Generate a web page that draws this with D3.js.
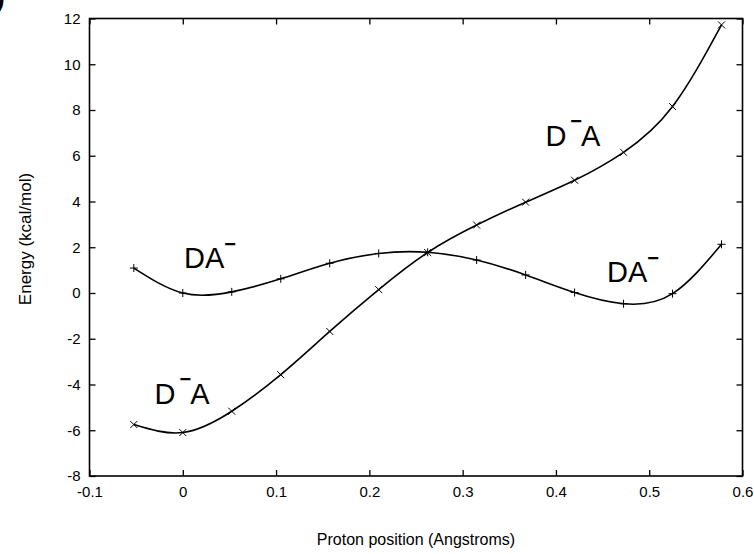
<!DOCTYPE html>
<html lang="en">
<head>
<meta charset="utf-8">
<title>Proton transfer energy profile</title>
<script src="https://d3js.org/d3.v7.min.js"></script>
<style>
  body { margin: 0; background: #fff; }
  svg { display: block; font-family: "Liberation Sans", Arial, sans-serif; }
</style>
</head>
<body>
<div id="chart"></div>
<script>
// proton positions (Angstroms), same grid for both curves
const positions = [-0.0525, 0, 0.0525, 0.105, 0.1575, 0.21, 0.2625, 0.315, 0.3675, 0.42, 0.4725, 0.525, 0.5775];
// D-A state (x markers)
const dMinusA = [-5.75, -6.1, -5.17, -3.57, -1.68, 0.15, 1.77, 2.97, 3.97, 4.93, 6.15, 8.15, 11.72];
// DA- state (+ markers)
const daMinus = [1.09, 0.0, 0.05, 0.62, 1.3, 1.73, 1.78, 1.44, 0.79, 0.02, -0.47, -0.03, 2.13];

const xTicks = [-0.1, 0, 0.1, 0.2, 0.3, 0.4, 0.5, 0.6];
const yTicks = [-8, -6, -4, -2, 0, 2, 4, 6, 8, 10, 12];

// state labels: text before the bar, text after it, anchor in data units
const labelLead = ["DA", "DA", "D", "D"];
const labelTail = ["", "", "A", "A"];
const labelX = [0.0013, 0.4547, 0.3887, -0.0303];
const labelY = [1.08, 0.48, 6.43, -4.85];

const width = 754, height = 554;
const plotL = 89.5, plotR = 742.5, plotT = 18.5, plotB = 476;

const svg = d3.select("#chart").append("svg")
    .attr("width", width)
    .attr("height", height);

const x = d3.scaleLinear().domain([-0.1, 0.6]).range([plotL, plotR]);
const y = d3.scaleLinear().domain([-8, 12]).range([plotB, plotT]);

const fmt = d => String(+d.toFixed(1));

// axes, ticks pointing inwards on all four sides
svg.append("g")
    .attr("transform", "translate(0," + plotB + ")")
    .call(d3.axisBottom(x).tickValues(xTicks).tickFormat(fmt).tickSizeInner(-6).tickSizeOuter(0).tickPadding(10));
svg.append("g")
    .attr("transform", "translate(0," + plotT + ")")
    .call(d3.axisTop(x).tickValues(xTicks).tickFormat("").tickSizeInner(-6).tickSizeOuter(0));
svg.append("g")
    .attr("transform", "translate(" + plotL + ",0)")
    .call(d3.axisLeft(y).tickValues(yTicks).tickFormat(fmt).tickSizeInner(-6).tickSizeOuter(0).tickPadding(9));
svg.append("g")
    .attr("transform", "translate(" + plotR + ",0)")
    .call(d3.axisRight(y).tickValues(yTicks).tickFormat("").tickSizeInner(-6).tickSizeOuter(0));

svg.selectAll(".domain").remove();
svg.selectAll(".tick line").attr("stroke", "#000").attr("stroke-width", 1.3);
svg.selectAll(".tick text")
    .attr("fill", "#000")
    .style("font-family", "'Liberation Sans', Arial, sans-serif")
    .style("font-size", "15px");

svg.append("rect")
    .attr("x", plotL).attr("y", plotT)
    .attr("width", plotR - plotL).attr("height", plotB - plotT)
    .attr("fill", "none").attr("stroke", "#000").attr("stroke-width", 1.6);

// curves
const line = d3.line()
    .x(d => x(d[0]))
    .y(d => y(d[1]))
    .curve(d3.curveNatural);

const seriesA = positions.map((p, i) => [p, dMinusA[i]]);
const seriesB = positions.map((p, i) => [p, daMinus[i]]);

[seriesA, seriesB].forEach(s => {
  svg.append("path")
      .datum(s)
      .attr("d", line)
      .attr("fill", "none")
      .attr("stroke", "#000")
      .attr("stroke-width", 1.6);
});

// markers
const m = 3.5;
svg.append("g").selectAll("path")
    .data(seriesA)
    .join("path")
    .attr("d", d => {
      const cx = x(d[0]), cy = y(d[1]);
      return `M${cx - m},${cy - m}L${cx + m},${cy + m}M${cx - m},${cy + m}L${cx + m},${cy - m}`;
    })
    .attr("stroke", "#000").attr("stroke-width", 1);

svg.append("g").selectAll("path")
    .data(seriesB)
    .join("path")
    .attr("d", d => {
      const cx = x(d[0]), cy = y(d[1]);
      return `M${cx - m - 0.5},${cy}L${cx + m + 0.5},${cy}M${cx},${cy - m - 0.5}L${cx},${cy + m + 0.5}`;
    })
    .attr("stroke", "#000").attr("stroke-width", 1);

// state labels with the raised minus bar
labelLead.forEach((lead, i) => {
  const t = svg.append("text")
      .attr("x", x(labelX[i]))
      .attr("y", y(labelY[i]))
      .style("font-size", "29px")
      .attr("fill", "#000");
  t.append("tspan").text(lead);
  const tail = labelTail[i];
  t.append("tspan")
      .attr("dx", tail ? 4 : 0)
      .attr("dy", -17.5)
      .style("font-size", "20px")
      .style("font-weight", "bold")
      .text("\u2212");
  if (tail) {
    t.append("tspan")
        .attr("dx", -1)
        .attr("dy", 17.5)
        .text(tail);
  }
});

// axis titles
svg.append("text")
    .attr("x", (plotL + plotR) / 2)
    .attr("y", 545)
    .attr("text-anchor", "middle")
    .style("font-size", "16px")
    .text("Proton position (Angstroms)");

svg.append("text")
    .attr("transform", "translate(31,239) rotate(-90)")
    .attr("text-anchor", "middle")
    .style("font-size", "17px")
    .text("Energy (kcal/mol)");

// panel letter, cut by the page edge
svg.append("text")
    .attr("x", -4)
    .attr("y", 7)
    .style("font-size", "26px")
    .style("font-weight", "bold")
    .text(")");
</script>
</body>
</html>
